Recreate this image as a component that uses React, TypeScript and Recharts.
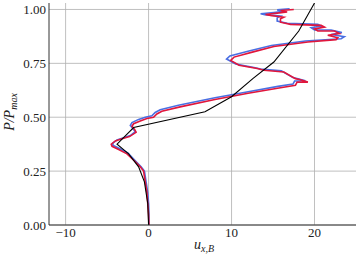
import { LineChart, Line, XAxis, YAxis, CartesianGrid } from 'recharts'

// model profile (black)
const modelX = [0, -0.1, -0.5, -1.2, -2.4, -3.8, -1.8, 6.8, 10, 12.6, 15.1, 18.1, 20]
const modelY = [0, 0.1, 0.2, 0.27, 0.33, 0.375, 0.452, 0.525, 0.595, 0.68, 0.756, 0.9, 1.03]

// measured profile, red run
const redX = [0.05, 0.0, -0.1, -0.2, -0.4, -0.6, -1.0, -1.5, -2.6, -3.6, -4.4, -4.5, -4.0, -3.2, -2.3, -1.5, -1.7, -2.0, -1.8, -1.0, -0.2, 0.6, 1.0, 1.6, 3.8, 8, 12, 15.9, 17.7, 17.9, 19.2, 18.3, 17.7, 16.3, 13.9, 13.1, 10.9, 9.9, 10.3, 12.5, 15.1, 19.2, 22.6, 22.8, 21.6, 23.0, 22.4, 20.4, 20.0, 21.2, 20.8, 17.1, 15.9, 15.9, 16.3, 14.7, 14.1, 15.5, 16.7, 15.9, 17.5]
const redY = [0.0, 0.05, 0.1, 0.15, 0.2, 0.25, 0.27, 0.29, 0.33, 0.35, 0.365, 0.375, 0.39, 0.4, 0.41, 0.43, 0.445, 0.458, 0.47, 0.483, 0.494, 0.5, 0.515, 0.528, 0.548, 0.582, 0.611, 0.637, 0.648, 0.663, 0.663, 0.674, 0.679, 0.71, 0.718, 0.726, 0.741, 0.764, 0.779, 0.802, 0.828, 0.849, 0.86, 0.869, 0.88, 0.888, 0.9, 0.9, 0.91, 0.918, 0.926, 0.931, 0.941, 0.957, 0.964, 0.972, 0.977, 0.983, 0.988, 0.995, 1.0]

// measured profile, blue run
const blueX = [0.05, 0.05, 0.0, -0.1, -0.3, -0.5, -0.9, -1.4, -2.5, -3.5, -4.3, -4.3, -3.8, -3.0, -2.2, -1.6, -1.9, -2.2, -2.0, -1.2, -0.4, 0.4, 0.8, 1.4, 3.6, 8, 12, 15.6, 17.4, 17.6, 18.9, 18.0, 17.4, 16.0, 13.5, 12.7, 10.5, 9.4, 9.8, 12.1, 14.8, 18.9, 23.2, 23.6, 22.0, 23.3, 22.0, 20.0, 19.6, 20.8, 20.4, 16.7, 15.5, 15.5, 15.9, 14.0, 13.5, 15.1, 16.3, 15.5, 17.0]
const blueY = [0.0, 0.05, 0.1, 0.15, 0.2, 0.25, 0.27, 0.29, 0.335, 0.355, 0.37, 0.38, 0.395, 0.405, 0.415, 0.433, 0.448, 0.462, 0.475, 0.49, 0.5, 0.507, 0.522, 0.535, 0.556, 0.59, 0.618, 0.643, 0.654, 0.668, 0.669, 0.679, 0.684, 0.715, 0.724, 0.731, 0.747, 0.77, 0.784, 0.807, 0.833, 0.854, 0.864, 0.874, 0.884, 0.893, 0.905, 0.905, 0.915, 0.923, 0.931, 0.936, 0.946, 0.961, 0.969, 0.976, 0.98, 0.986, 0.991, 0.998, 1.003]

const xTicks = [-10, 0, 10, 20]
const yTicks = [0, 0.25, 0.5, 0.75, 1]

const zip = (xs: number[], ys: number[]) => xs.map((x, i) => ({ x, y: ys[i] }))

const FONT = '"Liberation Serif", "DejaVu Serif", serif'

function XTick({ x, y, payload }: any) {
  const v = payload.value as number
  return (
    <text x={x} y={y + 12} textAnchor="middle" fontFamily={FONT} fontSize={13} fill="#222">
      {v < 0 ? '\u2212' + Math.abs(v) : String(v)}
    </text>
  )
}

function YTick({ x, y, payload }: any) {
  return (
    <text x={x} y={y + 4.5} textAnchor="end" fontFamily={FONT} fontSize={13} fill="#222">
      {(payload.value as number).toFixed(2)}
    </text>
  )
}

export default function App() {
  return (
    <div style={{ position: 'absolute', left: 0, top: 0, width: 359, height: 257 }}>
      <LineChart width={359} height={257} margin={{ top: 3, right: 3, left: 0, bottom: 0 }}>
        <CartesianGrid stroke="#b0b0b0" strokeWidth={0.8} horizontalValues={yTicks} verticalValues={xTicks} />
        <XAxis
          type="number" dataKey="x" domain={[-12, 25]} ticks={xTicks} allowDataOverflow
          height={32} tickLine={false} tickSize={0} tickMargin={0}
          axisLine={{ stroke: '#333' }} tick={<XTick />}
        />
        <XAxis xAxisId="top" orientation="top" type="number" domain={[-12, 25]} height={0} tick={false} tickLine={false} axisLine={{ stroke: '#333' }} />
        <YAxis
          type="number" dataKey="y" domain={[0, 1.03]} ticks={yTicks} allowDataOverflow
          width={49} tickLine={false} tickSize={0} tickMargin={3}
          axisLine={{ stroke: '#333' }} tick={<YTick />}
        />
        <YAxis yAxisId="right" orientation="right" type="number" domain={[0, 1.03]} width={0} tick={false} tickLine={false} axisLine={{ stroke: '#333' }} />
        <Line data={zip(blueX, blueY)} dataKey="y" stroke="#4a6fe3" strokeWidth={1.6} dot={false} isAnimationActive={false} type="linear" />
        <Line data={zip(redX, redY)} dataKey="y" stroke="#e0163c" strokeWidth={1.6} dot={false} isAnimationActive={false} type="linear" />
        <Line data={zip(modelX, modelY)} dataKey="y" stroke="#000" strokeWidth={1.1} dot={false} isAnimationActive={false} type="linear" />
      </LineChart>
      <svg width={359} height={257} style={{ position: 'absolute', left: 0, top: 0, pointerEvents: 'none' }}>
        <text x={204} y={249} textAnchor="middle" fontFamily={FONT} fontStyle="italic" fontSize={14} fill="#222">
          u<tspan dy={3} fontSize={10}>x,B</tspan>
        </text>
        <text transform="translate(14,112) rotate(-90)" textAnchor="middle" fontFamily={FONT} fontStyle="italic" fontSize={14} fill="#222">
          P/P<tspan dy={3} fontSize={10}>max</tspan>
        </text>
      </svg>
    </div>
  )
}
